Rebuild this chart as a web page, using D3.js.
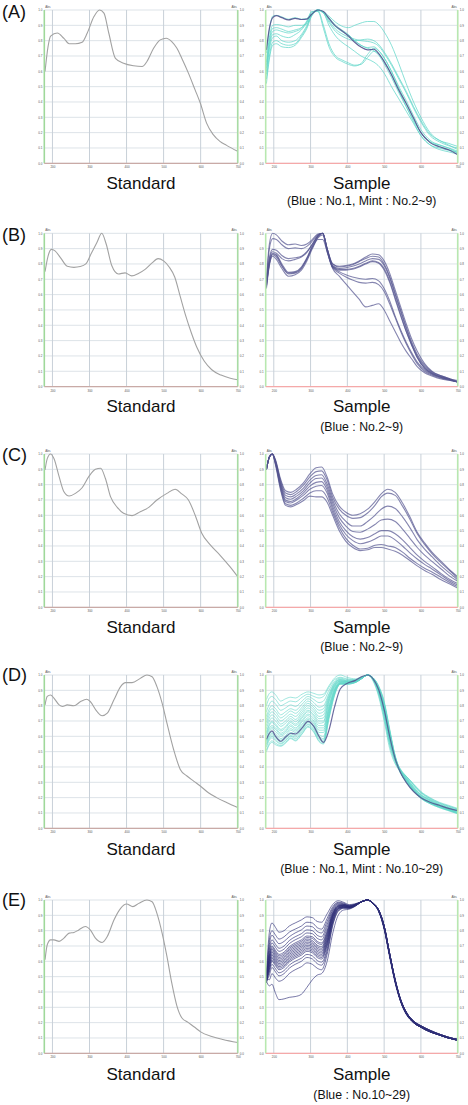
<!DOCTYPE html>
<html><head><meta charset="utf-8">
<script src="https://cdn.jsdelivr.net/npm/d3@7"></script>
<style>body{margin:0;background:#fff}svg{display:block}</style>
</head><body>
<script>
// ---------------- DATA ----------------
const xTicks = [200,300,400,500,600,700];
const yTicks = [0,0.1,0.2,0.3,0.4,0.5,0.6,0.7,0.8,0.9,1.0];
const rowLabels = ["(A)","(B)","(C)","(D)","(E)"];
const stdTitle = "Standard";
const smpTitle = "Sample";
const subTitles = ["(Blue : No.1, Mint : No.2~9)","(Blue : No.2~9)","(Blue : No.2~9)","(Blue : No.1, Mint : No.10~29)","(Blue : No.10~29)"];

// Standard spectra
const wlStdA = [180,188,195,213,231,245,262,280,294,312,327,339,352,370,392,419,442,455,473,491,507,522,536,549,567,585,599,616,634,652,670,700];
const stdA   = [0.60,0.76,0.83,0.85,0.815,0.78,0.78,0.79,0.85,0.957,1.0,0.98,0.85,0.685,0.653,0.636,0.631,0.664,0.75,0.805,0.816,0.794,0.75,0.685,0.588,0.479,0.393,0.262,0.187,0.143,0.117,0.078];
const wlStdB = [180,188,197,207,222,240,258,275,290,305,320,333,345,360,378,396,414,432,450,468,485,500,515,530,545,560,575,590,610,630,655,680,700];
const stdB   = [0.75,0.85,0.895,0.885,0.84,0.785,0.778,0.783,0.8,0.87,0.94,1.0,0.93,0.79,0.735,0.742,0.722,0.738,0.765,0.805,0.835,0.82,0.78,0.715,0.587,0.46,0.35,0.255,0.165,0.11,0.075,0.055,0.045];
const wlStdC = [180,186,195,204,218,231,245,262,280,298,316,330,343,357,375,392,415,437,460,482,509,531,549,567,585,603,626,652,679,700];
const stdC   = [0.896,0.97,1.0,0.97,0.852,0.754,0.726,0.743,0.78,0.852,0.9,0.907,0.84,0.72,0.652,0.613,0.598,0.624,0.652,0.7,0.743,0.77,0.74,0.7,0.602,0.483,0.407,0.341,0.265,0.2];
const wlStdD = [180,186,195,204,218,227,240,258,276,292,302,320,334,348,366,384,397,415,437,455,469,482,496,509,527,545,563,581,599,621,643,670,700];
const stdD   = [0.805,0.86,0.87,0.849,0.805,0.795,0.805,0.799,0.827,0.842,0.827,0.762,0.734,0.751,0.838,0.924,0.95,0.95,0.978,1.0,0.989,0.924,0.816,0.686,0.514,0.384,0.341,0.308,0.276,0.232,0.2,0.168,0.135];
const wlStdE = [180,186,195,204,218,231,245,258,271,289,302,316,334,348,366,384,400,417,433,455,469,482,496,509,522,536,549,567,585,600,630,660,700];
const stdE   = [0.61,0.708,0.74,0.74,0.73,0.751,0.784,0.788,0.805,0.827,0.805,0.751,0.723,0.762,0.87,0.946,0.974,0.957,0.978,1.0,0.989,0.913,0.784,0.632,0.459,0.308,0.232,0.2,0.168,0.14,0.11,0.09,0.07];

// Sample A : Blue No.1, Mint No.2~9
const wlSmpA = [180,188,197,207,222,240,258,275,290,303,320,335,350,368,385,403,420,437,455,472,487,502,520,540,560,580,600,625,650,675,700];
const smpA_blue = [0.74,0.88,0.95,0.963,0.95,0.935,0.946,0.938,0.94,0.972,1.0,0.99,0.945,0.895,0.865,0.83,0.79,0.758,0.74,0.744,0.71,0.655,0.578,0.478,0.39,0.295,0.2,0.135,0.108,0.088,0.056];
const smpA_mint = [
 [0.72,0.87,0.96,0.965,0.955,0.94,0.95,0.94,0.945,0.975,1.0,0.985,0.95,0.9,0.87,0.84,0.80,0.77,0.755,0.76,0.73,0.68,0.6,0.5,0.41,0.31,0.22,0.15,0.12,0.1,0.07],
 [0.66,0.82,0.90,0.905,0.9,0.89,0.9,0.9,0.91,0.965,1.0,0.99,0.96,0.92,0.895,0.885,0.9,0.915,0.925,0.925,0.9,0.85,0.77,0.65,0.52,0.4,0.3,0.2,0.15,0.13,0.11],
 [0.62,0.78,0.86,0.87,0.86,0.85,0.86,0.88,0.93,0.99,0.99,0.88,0.76,0.69,0.665,0.645,0.635,0.65,0.71,0.75,0.73,0.68,0.6,0.49,0.39,0.29,0.2,0.14,0.11,0.09,0.07],
 [0.60,0.76,0.84,0.845,0.83,0.82,0.84,0.87,0.92,0.985,0.995,0.9,0.78,0.7,0.675,0.655,0.64,0.645,0.69,0.73,0.71,0.66,0.58,0.47,0.37,0.27,0.18,0.12,0.09,0.075,0.06],
 [0.58,0.74,0.82,0.83,0.8,0.79,0.8,0.84,0.9,0.97,1.0,0.98,0.92,0.86,0.83,0.81,0.8,0.805,0.81,0.8,0.77,0.72,0.65,0.56,0.47,0.37,0.28,0.19,0.15,0.12,0.09],
 [0.55,0.70,0.79,0.80,0.78,0.77,0.78,0.83,0.89,0.97,1.0,0.985,0.93,0.875,0.845,0.825,0.81,0.8,0.795,0.785,0.76,0.71,0.64,0.55,0.46,0.36,0.27,0.18,0.14,0.115,0.1],
 [0.52,0.68,0.77,0.78,0.76,0.755,0.77,0.82,0.88,0.96,0.995,0.98,0.9,0.83,0.79,0.76,0.73,0.70,0.68,0.66,0.63,0.58,0.5,0.42,0.34,0.26,0.18,0.12,0.1,0.085,0.07],
 [0.64,0.8,0.88,0.885,0.875,0.86,0.87,0.885,0.92,0.975,1.0,0.985,0.94,0.89,0.86,0.835,0.8,0.77,0.75,0.735,0.7,0.64,0.56,0.46,0.37,0.28,0.2,0.14,0.12,0.1,0.08]
];

// Sample B : Blue No.2~9
const wlSmpB = [180,188,197,207,222,240,258,275,290,305,320,333,345,360,378,396,414,432,450,468,485,500,515,530,545,560,575,590,610,630,655,680,700];
const smpB = [
 [0.70,0.93,1.0,0.99,0.95,0.925,0.93,0.92,0.93,0.96,0.995,1.0,0.9,0.8,0.785,0.79,0.8,0.82,0.845,0.865,0.86,0.82,0.74,0.63,0.52,0.41,0.31,0.23,0.15,0.1,0.07,0.05,0.04],
 [0.69,0.9,0.965,0.96,0.925,0.9,0.905,0.9,0.915,0.95,0.99,1.0,0.9,0.8,0.78,0.785,0.795,0.815,0.835,0.85,0.845,0.8,0.72,0.61,0.5,0.39,0.29,0.21,0.14,0.095,0.07,0.05,0.035],
 [0.68,0.84,0.895,0.89,0.855,0.835,0.84,0.85,0.88,0.93,0.985,1.0,0.9,0.79,0.77,0.775,0.785,0.8,0.82,0.835,0.83,0.79,0.71,0.6,0.49,0.38,0.28,0.2,0.13,0.09,0.065,0.045,0.03],
 [0.67,0.83,0.88,0.87,0.835,0.82,0.83,0.845,0.875,0.93,0.985,1.0,0.9,0.785,0.765,0.765,0.77,0.785,0.805,0.82,0.81,0.77,0.69,0.58,0.47,0.36,0.27,0.19,0.12,0.085,0.06,0.045,0.03],
 [0.66,0.81,0.87,0.86,0.8,0.745,0.75,0.78,0.84,0.92,0.98,1.0,0.89,0.78,0.75,0.73,0.715,0.705,0.7,0.705,0.69,0.64,0.56,0.46,0.37,0.29,0.22,0.16,0.11,0.08,0.06,0.045,0.03],
 [0.65,0.8,0.86,0.845,0.785,0.735,0.74,0.77,0.83,0.91,0.975,1.0,0.89,0.775,0.74,0.715,0.695,0.68,0.675,0.68,0.665,0.62,0.54,0.45,0.36,0.28,0.21,0.15,0.1,0.075,0.055,0.04,0.03],
 [0.64,0.79,0.85,0.83,0.77,0.72,0.73,0.76,0.82,0.9,0.97,0.99,0.88,0.77,0.72,0.67,0.62,0.57,0.52,0.53,0.54,0.5,0.43,0.36,0.29,0.23,0.18,0.13,0.09,0.07,0.05,0.04,0.03],
 [0.66,0.8,0.865,0.855,0.79,0.74,0.745,0.775,0.835,0.91,0.96,0.96,0.88,0.78,0.76,0.76,0.765,0.78,0.8,0.815,0.805,0.76,0.68,0.57,0.46,0.36,0.27,0.19,0.12,0.085,0.06,0.045,0.03]
];

// Sample C : Blue No.2~9
const wlSmpC = [180,188,196,205,218,232,246,262,280,298,315,330,345,360,378,396,415,435,455,475,492,510,530,550,570,590,610,630,655,680,700];
const smpC = [
 [0.9,0.98,1.0,0.96,0.84,0.76,0.75,0.77,0.81,0.87,0.91,0.915,0.85,0.74,0.66,0.62,0.6,0.61,0.64,0.69,0.74,0.77,0.75,0.68,0.59,0.49,0.42,0.36,0.3,0.24,0.2],
 [0.9,0.98,1.0,0.955,0.83,0.745,0.735,0.755,0.795,0.85,0.885,0.89,0.83,0.72,0.64,0.6,0.58,0.585,0.615,0.665,0.72,0.745,0.73,0.66,0.575,0.48,0.41,0.35,0.29,0.235,0.19],
 [0.9,0.98,1.0,0.95,0.82,0.73,0.72,0.74,0.775,0.83,0.86,0.865,0.805,0.7,0.61,0.56,0.53,0.53,0.56,0.6,0.64,0.66,0.645,0.59,0.52,0.44,0.38,0.33,0.27,0.22,0.18],
 [0.9,0.98,1.0,0.945,0.81,0.715,0.705,0.725,0.76,0.81,0.84,0.843,0.785,0.68,0.585,0.53,0.495,0.49,0.51,0.54,0.57,0.575,0.56,0.51,0.45,0.39,0.34,0.3,0.25,0.2,0.17],
 [0.9,0.98,1.0,0.94,0.8,0.7,0.69,0.71,0.745,0.79,0.815,0.82,0.765,0.66,0.56,0.5,0.46,0.445,0.455,0.48,0.5,0.5,0.48,0.44,0.39,0.34,0.3,0.265,0.22,0.18,0.155],
 [0.9,0.98,1.0,0.935,0.79,0.69,0.68,0.7,0.73,0.77,0.79,0.795,0.745,0.64,0.54,0.475,0.435,0.415,0.425,0.445,0.465,0.465,0.44,0.4,0.355,0.315,0.28,0.25,0.21,0.17,0.145],
 [0.9,0.98,1.0,0.93,0.78,0.675,0.665,0.68,0.71,0.745,0.76,0.76,0.715,0.62,0.52,0.45,0.405,0.38,0.385,0.405,0.41,0.4,0.39,0.36,0.32,0.285,0.255,0.23,0.195,0.16,0.135],
 [0.9,0.98,1.0,0.925,0.77,0.665,0.655,0.67,0.695,0.725,0.72,0.72,0.685,0.6,0.5,0.43,0.39,0.37,0.375,0.39,0.39,0.38,0.365,0.34,0.305,0.27,0.24,0.215,0.18,0.15,0.125]
];

// Sample D : Blue No.1, Mint No.10~29
const wlSmpD = [180,188,195,205,219,232,246,259,277,293,309,323,335,350,365,381,399,422,440,455,470,485,500,515,530,545,560,580,600,625,650,675,700];
const smpD_blue = [0.58,0.62,0.635,0.6,0.568,0.595,0.62,0.615,0.655,0.698,0.665,0.6,0.56,0.64,0.79,0.91,0.945,0.965,0.99,1.0,0.975,0.905,0.775,0.6,0.455,0.36,0.3,0.24,0.2,0.17,0.15,0.13,0.115];
const smpD_mint = [
 [0.84,0.88,0.89,0.87,0.83,0.845,0.855,0.85,0.875,0.89,0.88,0.87,0.875,0.93,0.98,1.0,0.985,0.975,0.99,1.0,0.96,0.86,0.7,0.52,0.42,0.37,0.34,0.29,0.24,0.2,0.17,0.15,0.13],
 [0.8,0.85,0.86,0.84,0.8,0.815,0.83,0.825,0.855,0.875,0.86,0.85,0.86,0.92,0.97,0.985,0.975,0.97,0.985,1.0,0.965,0.87,0.72,0.54,0.43,0.37,0.34,0.285,0.235,0.195,0.165,0.145,0.125],
 [0.76,0.81,0.83,0.81,0.77,0.785,0.805,0.795,0.83,0.86,0.84,0.82,0.83,0.9,0.96,0.98,0.97,0.968,0.985,1.0,0.968,0.88,0.73,0.55,0.44,0.38,0.335,0.28,0.23,0.19,0.16,0.14,0.12],
 [0.73,0.78,0.80,0.78,0.74,0.76,0.78,0.77,0.81,0.845,0.82,0.79,0.8,0.88,0.95,0.975,0.965,0.966,0.984,1.0,0.97,0.885,0.74,0.56,0.45,0.385,0.34,0.285,0.235,0.195,0.165,0.145,0.125],
 [0.71,0.76,0.78,0.76,0.72,0.74,0.765,0.75,0.79,0.83,0.8,0.77,0.78,0.87,0.945,0.97,0.962,0.964,0.983,1.0,0.972,0.89,0.75,0.57,0.45,0.38,0.33,0.27,0.22,0.185,0.155,0.135,0.115],
 [0.69,0.74,0.76,0.74,0.70,0.72,0.745,0.73,0.775,0.815,0.785,0.75,0.76,0.86,0.94,0.97,0.96,0.963,0.982,1.0,0.972,0.89,0.75,0.57,0.44,0.37,0.32,0.26,0.215,0.18,0.15,0.13,0.11],
 [0.67,0.72,0.74,0.72,0.68,0.70,0.73,0.71,0.76,0.8,0.77,0.73,0.74,0.85,0.935,0.965,0.958,0.962,0.982,1.0,0.975,0.9,0.76,0.58,0.45,0.375,0.33,0.27,0.22,0.185,0.155,0.135,0.115],
 [0.65,0.70,0.72,0.70,0.665,0.685,0.715,0.695,0.745,0.785,0.755,0.715,0.72,0.84,0.93,0.962,0.956,0.96,0.981,1.0,0.975,0.9,0.76,0.58,0.44,0.36,0.31,0.25,0.205,0.17,0.145,0.125,0.105],
 [0.63,0.68,0.70,0.68,0.645,0.665,0.70,0.68,0.73,0.77,0.74,0.70,0.70,0.83,0.925,0.96,0.955,0.96,0.98,1.0,0.976,0.9,0.77,0.59,0.45,0.37,0.32,0.26,0.21,0.175,0.15,0.13,0.11],
 [0.62,0.67,0.69,0.67,0.635,0.655,0.69,0.67,0.72,0.76,0.73,0.685,0.69,0.82,0.92,0.958,0.954,0.958,0.98,1.0,0.977,0.905,0.78,0.6,0.46,0.375,0.325,0.265,0.215,0.18,0.15,0.13,0.11],
 [0.61,0.655,0.67,0.655,0.62,0.64,0.675,0.655,0.705,0.745,0.715,0.67,0.67,0.8,0.91,0.955,0.952,0.957,0.98,1.0,0.977,0.905,0.78,0.6,0.45,0.36,0.31,0.25,0.2,0.165,0.14,0.12,0.1],
 [0.6,0.645,0.66,0.645,0.61,0.63,0.665,0.645,0.695,0.735,0.7,0.655,0.655,0.79,0.905,0.952,0.95,0.956,0.98,1.0,0.978,0.91,0.79,0.61,0.46,0.37,0.32,0.255,0.205,0.17,0.145,0.125,0.105],
 [0.58,0.63,0.65,0.63,0.6,0.62,0.65,0.635,0.68,0.72,0.69,0.64,0.64,0.78,0.9,0.95,0.948,0.955,0.979,1.0,0.978,0.91,0.79,0.61,0.45,0.36,0.305,0.245,0.2,0.165,0.14,0.12,0.1],
 [0.57,0.615,0.63,0.615,0.585,0.605,0.64,0.625,0.67,0.71,0.68,0.625,0.625,0.77,0.895,0.948,0.946,0.954,0.979,1.0,0.979,0.915,0.8,0.62,0.46,0.37,0.315,0.25,0.2,0.165,0.14,0.12,0.1],
 [0.56,0.605,0.62,0.6,0.575,0.595,0.625,0.615,0.66,0.7,0.665,0.61,0.6,0.76,0.89,0.946,0.945,0.954,0.979,1.0,0.979,0.915,0.8,0.62,0.455,0.36,0.305,0.245,0.195,0.16,0.135,0.115,0.095],
 [0.55,0.595,0.61,0.59,0.565,0.585,0.615,0.605,0.65,0.69,0.66,0.6,0.585,0.75,0.885,0.945,0.944,0.953,0.979,1.0,0.98,0.92,0.81,0.63,0.47,0.375,0.32,0.255,0.205,0.17,0.145,0.125,0.105],
 [0.54,0.585,0.6,0.58,0.555,0.575,0.605,0.595,0.64,0.68,0.65,0.59,0.575,0.74,0.88,0.944,0.943,0.953,0.979,1.0,0.98,0.92,0.81,0.63,0.46,0.36,0.305,0.245,0.2,0.165,0.14,0.12,0.1],
 [0.53,0.575,0.59,0.57,0.55,0.57,0.6,0.585,0.63,0.675,0.64,0.58,0.565,0.73,0.875,0.942,0.942,0.952,0.978,1.0,0.981,0.925,0.82,0.64,0.47,0.37,0.315,0.25,0.2,0.165,0.14,0.12,0.1],
 [0.51,0.555,0.57,0.555,0.54,0.56,0.59,0.575,0.62,0.665,0.63,0.57,0.555,0.72,0.87,0.94,0.94,0.952,0.978,1.0,0.981,0.925,0.82,0.64,0.465,0.36,0.3,0.24,0.195,0.16,0.135,0.115,0.095],
 [0.5,0.545,0.56,0.545,0.535,0.555,0.585,0.57,0.615,0.66,0.625,0.565,0.55,0.715,0.865,0.94,0.94,0.951,0.978,1.0,0.982,0.93,0.83,0.65,0.475,0.37,0.31,0.245,0.2,0.165,0.14,0.12,0.1]
];

// Sample E : Blue No.10~29
const wlSmpE = [180,188,195,205,214,228,242,258,275,290,305,318,330,345,360,375,390,405,420,440,455,470,485,500,515,530,545,560,580,600,625,650,675,700];
const smpE = [
 [0.52,0.79,0.85,0.82,0.79,0.80,0.83,0.85,0.87,0.89,0.885,0.86,0.855,0.91,0.97,0.995,0.985,0.97,0.975,0.99,1.0,0.975,0.93,0.82,0.64,0.47,0.34,0.26,0.2,0.17,0.14,0.12,0.1,0.085],
 [0.5,0.74,0.80,0.77,0.745,0.76,0.79,0.81,0.83,0.855,0.85,0.82,0.81,0.88,0.955,0.985,0.98,0.965,0.972,0.99,1.0,0.975,0.93,0.82,0.64,0.47,0.34,0.26,0.2,0.17,0.14,0.12,0.1,0.085],
 [0.49,0.71,0.77,0.74,0.715,0.73,0.76,0.785,0.805,0.83,0.825,0.795,0.785,0.86,0.945,0.98,0.975,0.963,0.97,0.99,1.0,0.975,0.925,0.81,0.63,0.46,0.335,0.255,0.2,0.17,0.14,0.12,0.1,0.085],
 [0.48,0.68,0.74,0.71,0.685,0.70,0.735,0.76,0.78,0.805,0.8,0.77,0.76,0.84,0.935,0.975,0.972,0.962,0.97,0.99,1.0,0.976,0.93,0.82,0.64,0.47,0.345,0.265,0.21,0.175,0.145,0.125,0.105,0.09],
 [0.5,0.66,0.72,0.69,0.665,0.68,0.715,0.74,0.76,0.785,0.78,0.75,0.74,0.82,0.925,0.97,0.97,0.96,0.968,0.99,1.0,0.976,0.925,0.81,0.63,0.46,0.335,0.255,0.2,0.17,0.14,0.12,0.1,0.085],
 [0.47,0.64,0.70,0.67,0.645,0.66,0.695,0.72,0.74,0.765,0.76,0.73,0.72,0.8,0.915,0.965,0.968,0.958,0.967,0.99,1.0,0.977,0.93,0.82,0.64,0.47,0.345,0.265,0.205,0.175,0.145,0.12,0.1,0.09],
 [0.49,0.63,0.69,0.66,0.635,0.65,0.685,0.71,0.73,0.755,0.75,0.72,0.71,0.79,0.91,0.962,0.966,0.957,0.966,0.99,1.0,0.977,0.935,0.83,0.65,0.48,0.35,0.27,0.21,0.18,0.15,0.125,0.105,0.09],
 [0.46,0.62,0.68,0.65,0.625,0.64,0.675,0.70,0.72,0.745,0.735,0.705,0.695,0.78,0.905,0.96,0.965,0.956,0.966,0.99,1.0,0.977,0.93,0.82,0.64,0.47,0.34,0.26,0.205,0.17,0.14,0.12,0.1,0.085],
 [0.48,0.61,0.67,0.64,0.615,0.63,0.665,0.69,0.71,0.735,0.725,0.695,0.685,0.77,0.9,0.958,0.964,0.955,0.965,0.99,1.0,0.978,0.935,0.83,0.65,0.48,0.35,0.27,0.21,0.175,0.145,0.125,0.105,0.09],
 [0.47,0.60,0.66,0.63,0.605,0.62,0.655,0.68,0.70,0.725,0.715,0.685,0.675,0.76,0.895,0.955,0.962,0.954,0.964,0.99,1.0,0.978,0.93,0.82,0.64,0.47,0.34,0.26,0.2,0.17,0.14,0.12,0.1,0.085],
 [0.49,0.59,0.65,0.62,0.595,0.61,0.645,0.67,0.69,0.715,0.705,0.675,0.665,0.75,0.89,0.952,0.96,0.953,0.964,0.99,1.0,0.978,0.935,0.83,0.65,0.475,0.345,0.265,0.205,0.175,0.145,0.12,0.1,0.09],
 [0.46,0.58,0.64,0.61,0.585,0.60,0.635,0.66,0.68,0.705,0.695,0.665,0.655,0.74,0.885,0.95,0.958,0.952,0.963,0.99,1.0,0.979,0.935,0.83,0.65,0.48,0.35,0.27,0.21,0.18,0.15,0.125,0.105,0.09],
 [0.48,0.57,0.63,0.60,0.575,0.59,0.625,0.65,0.67,0.695,0.685,0.655,0.645,0.73,0.88,0.947,0.956,0.951,0.962,0.99,1.0,0.979,0.93,0.82,0.64,0.47,0.34,0.26,0.205,0.17,0.14,0.12,0.1,0.085],
 [0.47,0.56,0.62,0.59,0.565,0.58,0.615,0.64,0.66,0.685,0.675,0.645,0.635,0.72,0.87,0.944,0.955,0.95,0.962,0.99,1.0,0.979,0.935,0.83,0.65,0.475,0.345,0.265,0.205,0.175,0.145,0.12,0.1,0.09],
 [0.49,0.55,0.61,0.58,0.555,0.57,0.605,0.63,0.65,0.675,0.665,0.635,0.625,0.71,0.865,0.942,0.954,0.95,0.961,0.99,1.0,0.98,0.935,0.83,0.65,0.48,0.35,0.27,0.21,0.18,0.15,0.125,0.105,0.09],
 [0.46,0.54,0.60,0.57,0.545,0.56,0.595,0.62,0.64,0.665,0.655,0.625,0.615,0.70,0.86,0.94,0.952,0.949,0.961,0.99,1.0,0.98,0.93,0.82,0.64,0.47,0.34,0.26,0.2,0.17,0.14,0.12,0.1,0.085],
 [0.48,0.53,0.58,0.55,0.525,0.54,0.575,0.60,0.62,0.645,0.635,0.605,0.595,0.68,0.85,0.935,0.95,0.948,0.96,0.99,1.0,0.98,0.935,0.83,0.65,0.475,0.345,0.265,0.205,0.175,0.145,0.12,0.1,0.09],
 [0.47,0.51,0.56,0.53,0.505,0.52,0.555,0.58,0.60,0.625,0.615,0.585,0.575,0.665,0.84,0.93,0.948,0.947,0.96,0.99,1.0,0.98,0.935,0.83,0.65,0.48,0.35,0.27,0.21,0.18,0.15,0.125,0.105,0.09],
 [0.49,0.48,0.52,0.49,0.47,0.485,0.52,0.545,0.565,0.59,0.58,0.555,0.545,0.645,0.83,0.925,0.946,0.946,0.959,0.99,1.0,0.98,0.93,0.82,0.64,0.47,0.34,0.26,0.2,0.17,0.14,0.12,0.1,0.085],
 [0.47,0.44,0.45,0.39,0.35,0.355,0.365,0.37,0.385,0.43,0.48,0.51,0.52,0.6,0.78,0.9,0.935,0.94,0.957,0.99,1.0,0.98,0.935,0.83,0.65,0.475,0.345,0.265,0.205,0.175,0.145,0.12,0.1,0.09]
];

// ---------------- DRAW ----------------
const W = 468, H = 1105;
const svg = d3.select("body").append("svg").attr("width", W).attr("height", H);
const FONT = "'Liberation Sans', Arial, Helvetica, sans-serif";

const LX0 = 44.3, LX1 = 237.7, RX0 = 265.7, RX1 = 457.7;
const rows = [
  {top:10,    labelY:18,  capY:189,  subY:205},
  {top:233.3, labelY:241, capY:412,  subY:430.8},
  {top:454,   labelY:461, capY:633,  subY:650.8},
  {top:675,   labelY:681, capY:855,  subY:872.5},
  {top:900,   labelY:906, capY:1080, subY:1099}
];
const PH = 153.3;

const COL = {
  std: "#a2a2a2", blue: "#52528f", mint: "#62d7c9", navy: "#2f2f78"
};

let clipN = 0;
function drawPlot(x0, x1, top, series, isStd) {
  const bottom = top + PH;
  const x = d3.scaleLinear().domain([178, 700]).range([x0, x1]);
  const y = d3.scaleLinear().domain([0, 1]).range([bottom, top]);
  const g = svg.append("g");
  // grid
  g.selectAll(null).data(yTicks).join("line")
    .attr("x1", x0).attr("x2", x1).attr("y1", d => y(d)).attr("y2", d => y(d))
    .attr("stroke", "#dde3e8").attr("stroke-width", 1);
  g.selectAll(null).data(xTicks).join("line")
    .attr("x1", d => x(d)).attr("x2", d => x(d)).attr("y1", top).attr("y2", bottom)
    .attr("stroke", "#c8d0d8").attr("stroke-width", 1);
  // clip
  const id = "clip" + (clipN++);
  svg.append("clipPath").attr("id", id).append("rect")
    .attr("x", x0).attr("y", top - 1).attr("width", x1 - x0).attr("height", PH + 1);
  const cg = g.append("g").attr("clip-path", `url(#${id})`);
  series.forEach(s => {
    const line = d3.line().x((d, i) => x(s.wl[i])).y(d => y(d)).curve(d3.curveMonotoneX);
    cg.append("path").attr("d", line(s.v)).attr("fill", "none")
      .attr("stroke", s.color).attr("stroke-width", s.w).attr("stroke-opacity", s.op)
      .attr("stroke-linejoin", "round");
  });
  // borders
  g.append("line").attr("x1", x0).attr("x2", x0).attr("y1", top).attr("y2", bottom)
    .attr("stroke", isStd ? "#9fd89a" : "#b8e8b0").attr("stroke-width", 1.6);
  g.append("line").attr("x1", x1).attr("x2", x1).attr("y1", top).attr("y2", bottom)
    .attr("stroke", isStd ? "#a8dca4" : "#b8e8b0").attr("stroke-width", 1.6);
  g.append("line").attr("x1", x0).attr("x2", x1).attr("y1", bottom).attr("y2", bottom)
    .attr("stroke", isStd ? "#c9aaa6" : "#f5a9a9").attr("stroke-width", 1.3);
  // tiny axis labels
  const fmt = d3.format(".1f");
  const styleAx = sel => {
    sel.select(".domain").remove();
    sel.selectAll("line").remove();
    sel.selectAll("text").attr("font-size", 3).attr("fill", "#555").attr("font-family", FONT);
  };
  g.append("g").attr("transform", `translate(${x0},0)`)
    .call(d3.axisLeft(y).tickValues(yTicks).tickSize(0).tickPadding(2).tickFormat(fmt)).call(styleAx);
  g.append("g").attr("transform", `translate(${x1},0)`)
    .call(d3.axisRight(y).tickValues(yTicks).tickSize(0).tickPadding(2).tickFormat(fmt)).call(styleAx);
  g.append("g").attr("transform", `translate(0,${bottom})`)
    .call(d3.axisBottom(x).tickValues(xTicks).tickSize(0).tickPadding(3).tickFormat(d3.format("d"))).call(styleAx);
  g.append("text").attr("x", x0 + 1).attr("y", top - 2).attr("font-size", 3).attr("fill", "#555")
    .attr("font-family", FONT).text("Abs");
  g.append("text").attr("x", x1 - 1).attr("y", top - 2).attr("font-size", 3).attr("fill", "#555")
    .attr("text-anchor", "end").attr("font-family", FONT).text("Abs");
}

const stdSets = [[wlStdA, stdA], [wlStdB, stdB], [wlStdC, stdC], [wlStdD, stdD], [wlStdE, stdE]];
const smpSets = [
  [...smpA_mint.map(v => ({wl: wlSmpA, v, color: COL.mint, w: 1, op: 0.75})),
   {wl: wlSmpA, v: smpA_blue, color: COL.blue, w: 1.2, op: 0.9}],
  smpB.map(v => ({wl: wlSmpB, v, color: COL.blue, w: 1.1, op: 0.7})),
  smpC.map(v => ({wl: wlSmpC, v, color: COL.blue, w: 1.1, op: 0.7})),
  [...smpD_mint.map(v => ({wl: wlSmpD, v, color: COL.mint, w: 1, op: 0.6})),
   {wl: wlSmpD, v: smpD_blue, color: COL.blue, w: 1.2, op: 0.85}],
  smpE.map(v => ({wl: wlSmpE, v, color: COL.navy, w: 1, op: 0.65}))
];

rows.forEach((r, i) => {
  drawPlot(LX0, LX1, r.top, [{wl: stdSets[i][0], v: stdSets[i][1], color: COL.std, w: 1.1, op: 1}], true);
  drawPlot(RX0, RX1, r.top, smpSets[i], false);
  svg.append("text").attr("x", 2).attr("y", r.labelY).attr("font-size", 18)
    .attr("font-family", FONT).attr("fill", "#111").text(rowLabels[i]);
  svg.append("text").attr("x", (LX0 + LX1) / 2).attr("y", r.capY).attr("font-size", 17)
    .attr("text-anchor", "middle").attr("font-family", FONT).attr("fill", "#111").text(stdTitle);
  svg.append("text").attr("x", (RX0 + RX1) / 2).attr("y", r.capY).attr("font-size", 17)
    .attr("text-anchor", "middle").attr("font-family", FONT).attr("fill", "#111").text(smpTitle);
  svg.append("text").attr("x", (RX0 + RX1) / 2).attr("y", r.subY).attr("font-size", 12.3)
    .attr("text-anchor", "middle").attr("font-family", FONT).attr("fill", "#111").text(subTitles[i]);
});
</script>
</body></html>
